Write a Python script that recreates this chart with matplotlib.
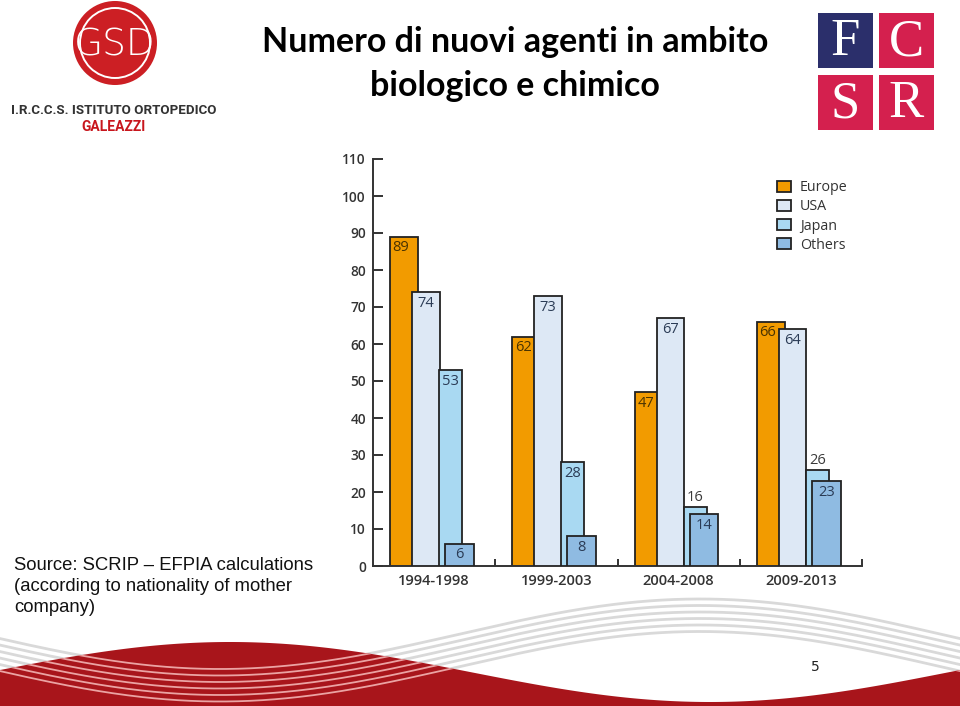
import numpy as np
import matplotlib.pyplot as plt
from matplotlib.patches import Rectangle, Circle, Polygon

# dati del grafico
periods = ['1994-1998', '1999-2003', '2004-2008', '2009-2013']
europe = [89, 62, 47, 66]
usa = [74, 73, 67, 64]
japan = [53, 28, 16, 26]
others = [6, 8, 14, 23]
series_names = ['Europe', 'USA', 'Japan', 'Others']
yticks = list(range(0, 111, 10))

source_lines = ['Source: SCRIP \u2013 EFPIA calculations',
                '(according to nationality of mother',
                'company)']

colors = ['#f29b00', '#dde8f5', '#a9d9f2', '#8fbbe2']
edge = '#222222'

fig = plt.figure(figsize=(9.6, 7.06), dpi=100)

# sfondo della slide in coordinate pixel
bg = fig.add_axes([0, 0, 1, 1])
bg.set_xlim(0, 960)
bg.set_ylim(706, 0)
bg.axis('off')

# onda rossa e linee grigie in basso
xs = np.linspace(0, 960, 400)
red_top = 672 - 30 * np.cos(2 * np.pi * (xs - 230) / 960)
wave = Polygon(np.column_stack([np.r_[xs, 960, 0], np.r_[red_top, 706, 706]]),
               closed=True, fc='#a8151b', ec='none', zorder=1)
bg.add_patch(wave)
for k in range(6):
    yy = 634 + 6.5 * k - 35 * np.cos(2 * np.pi * (xs - 700) / 960)
    bg.plot(xs, yy, color='#d9d9d9', lw=2, zorder=0.5)
    ln, = bg.plot(xs, yy, color='#eba3a3', lw=1.3, zorder=1.5)
    ln.set_clip_path(wave)

# logo GSD
bg.add_patch(Circle((115, 43), 42, fc='#cc1f24', ec='none'))
bg.add_patch(Circle((115, 43), 35, fill=False, ec='white', lw=1.4))
bg.text(115, 45, 'GSD', color='white', fontsize=27, ha='center', va='center',
        family='DejaVu Sans', weight='light')
bg.text(114, 110, 'I.R.C.C.S. ISTITUTO ORTOPEDICO', color='#333333', fontsize=9.6,
        ha='center', va='center', family='Roboto', weight='bold')
bg.text(114, 127, 'GALEAZZI', color='#c8161d', fontsize=10,
        ha='center', va='center', family='Roboto', weight='bold')

# logo FCSR
for (x0, y0, fc, letter) in [(818, 13, '#2b2f6b', 'F'), (879, 13, '#d4204e', 'C'),
                             (818, 75, '#d4204e', 'S'), (879, 75, '#d4204e', 'R')]:
    bg.add_patch(Rectangle((x0, y0), 55, 55, fc=fc, ec='none'))
    bg.text(x0 + 27.5, y0 + 29, letter, color='white', fontsize=38,
            ha='center', va='center', family='Liberation Serif')

# titolo
bg.text(515, 42, 'Numero di nuovi agenti in ambito', fontsize=24.5, weight='bold',
        ha='center', va='center', family='Lato')
bg.text(515, 86, 'biologico e chimico', fontsize=24.5, weight='bold',
        ha='center', va='center', family='Lato')

for i, line in enumerate(source_lines):
    bg.text(14, 565 + 21.5 * i, line, fontsize=13.3, ha='left', va='center',
            family='Liberation Sans', color='#111111')

bg.text(815, 667, '5', fontsize=10, ha='center', va='center', color='#222222')

# grafico
ax = fig.add_axes([373 / 960, (706 - 566) / 706, (862 - 373) / 960, (566 - 159) / 706])
ax.set_facecolor('none')
ax.set_zorder(2)

x = np.arange(len(periods))
offsets = [0.14, 0.32, 0.54, 0.59]
widths = [0.23, 0.225, 0.19, 0.235]
values = [europe, usa, japan, others]

for j, (vals, off, w, c) in enumerate(zip(values, offsets, widths, colors)):
    ax.bar(x + off, vals, width=w, align='edge', color=c, edgecolor=edge,
           linewidth=1.3, zorder=2 + j, label=series_names[j])

font_num = dict(family='Open Sans', fontsize=10.5)
for i in range(len(periods)):
    # Europe: centro della parte visibile
    ax.annotate(str(europe[i]), (i + (offsets[0] + offsets[1]) / 2, europe[i]),
                xytext=(0, -8), textcoords='offset points', ha='center', va='center',
                color='#4a3300', zorder=10, **font_num)
    ax.annotate(str(usa[i]), (i + offsets[1] + widths[1] / 2, usa[i]),
                xytext=(0, -8), textcoords='offset points', ha='center', va='center',
                color='#2a3b55', zorder=10, **font_num)
    inside = japan[i] - others[i] > 8
    ax.annotate(str(japan[i]), (i + offsets[2] + widths[2] / 2, japan[i]),
                xytext=(0, -8 if inside else 6.5), textcoords='offset points',
                ha='center', va='center', color='#2a3b55' if inside else '#3a3a3a',
                zorder=10, **font_num)
    ax.annotate(str(others[i]), (i + offsets[3] + widths[3] / 2, others[i]),
                xytext=(0, -8), textcoords='offset points', ha='center', va='center',
                color='#2a3b55', zorder=10, **font_num)

ax.set_xlim(0, 4)
ax.set_ylim(0, 110)
ax.set_yticks(yticks)
ax.set_yticklabels([str(v) for v in yticks], family='Open Sans', fontsize=9.8,
                   color='#333333', weight='semibold')
ax.set_xticks([1, 2, 3, 4])
ax.set_xticklabels([])
ax.set_xticks(x + 0.5, minor=True)
ax.set_xticklabels(periods, minor=True, family='Open Sans', fontsize=10.5,
                   color='#333333', weight='semibold')
ax.tick_params(axis='y', direction='in', length=7, width=1.4, color='#333333', pad=5)
ax.tick_params(axis='x', which='major', direction='in', length=5, width=1.4, color='#333333')
ax.tick_params(axis='x', which='minor', length=0, pad=6)
for s in ['top', 'right']:
    ax.spines[s].set_visible(False)
for s in ['left', 'bottom']:
    ax.spines[s].set_color('#333333')
    ax.spines[s].set_linewidth(1.4)

leg = ax.legend(loc='upper left', bbox_to_anchor=(777 / 960, (706 - 180) / 706),
                bbox_transform=fig.transFigure, frameon=False, fontsize=10.3,
                handlelength=0.95, handleheight=0.8, handletextpad=0.65,
                labelspacing=0.3, borderpad=0, borderaxespad=0)
for t in leg.get_texts():
    t.set_color('#333333')
    t.set_family('Open Sans')

fig.savefig('out.png', dpi=100)
